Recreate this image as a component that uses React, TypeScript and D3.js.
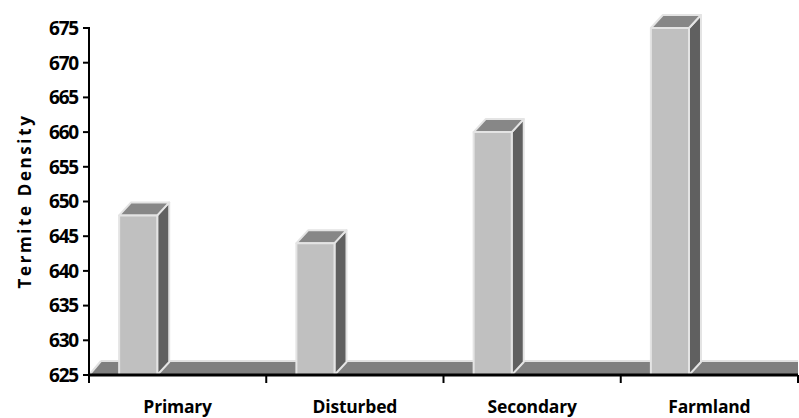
import React from "react";
import * as d3 from "d3";

const categories = ["Primary", "Disturbed", "Secondary", "Farmland"];
const densities = [648, 644, 660, 675];
const yTicks = [625, 630, 635, 640, 645, 650, 655, 660, 665, 670, 675];
const yTitle = "Termite Density";

const W = 799;
const H = 418;
const plot = { left: 89, right: 798, top: 28, bottom: 375 };
const depth = { dx: 12, dy: 13 };
const FONT = "'Open Sans', 'DejaVu Sans', sans-serif";

export default function App() {
  const x = d3
    .scaleBand<string>()
    .domain(categories)
    .range([plot.left, plot.right])
    .paddingInner(0)
    .paddingOuter(0);
  const y = d3.scaleLinear().domain([625, 675]).range([plot.bottom, plot.top]);

  const barOffset = x.bandwidth() * 0.17;
  const barW = x.bandwidth() * 0.215;
  const { dx, dy } = depth;
  const floorY = y(625);

  const poly = (pts: [number, number][]) => pts.map((p) => p.join(",")).join(" ");

  return (
    <svg
      width={W}
      height={H}
      style={{ position: "absolute", left: 0, top: 0, background: "#fff" }}
      fontFamily={FONT}
    >
      {/* floor slab */}
      <polygon
        points={poly([
          [plot.left, floorY],
          [plot.left + dx, floorY - dy],
          [plot.right, floorY - dy],
          [plot.right, floorY],
        ])}
        fill="#808080"
      />
      <line
        x1={plot.left + dx}
        x2={plot.right}
        y1={floorY - dy - 1}
        y2={floorY - dy - 1}
        stroke="#e2e2e2"
        strokeWidth={2}
      />
      <line
        x1={plot.left + 1}
        y1={floorY - 1}
        x2={plot.left + dx}
        y2={floorY - dy - 1}
        stroke="#e2e2e2"
        strokeWidth={2}
      />

      {/* 3D bars */}
      {categories.map((c, i) => {
        const x0 = (x(c) as number) + barOffset;
        const x1 = x0 + barW;
        const yt = y(densities[i]);
        return (
          <g key={c} stroke="#e4e4e4" strokeWidth={2} strokeLinejoin="round">
            <polygon
              points={poly([
                [x1, yt],
                [x1 + dx, yt - dy],
                [x1 + dx, floorY - dy],
                [x1, floorY],
              ])}
              fill="#606060"
            />
            <polygon
              points={poly([
                [x0, yt],
                [x0 + dx, yt - dy],
                [x1 + dx, yt - dy],
                [x1, yt],
              ])}
              fill="#878787"
            />
            <rect x={x0} y={yt} width={barW} height={floorY - yt} fill="#c0c0c0" />
          </g>
        );
      })}

      {/* x axis */}
      <line
        x1={plot.left}
        x2={plot.right}
        y1={floorY}
        y2={floorY}
        stroke="#000"
        strokeWidth={3}
      />
      {d3.range(categories.length + 1).map((k) => {
        const tx = plot.left + k * x.bandwidth();
        return (
          <line
            key={k}
            x1={tx}
            x2={tx}
            y1={floorY}
            y2={floorY + 8}
            stroke="#000"
            strokeWidth={2}
          />
        );
      })}
      {categories.map((c) => (
        <text
          key={c}
          x={(x(c) as number) + x.bandwidth() / 2}
          y={413}
          textAnchor="middle"
          fontSize={17.5}
          fontWeight={700}
          letterSpacing={-0.2}
          fill="#000"
        >
          {c}
        </text>
      ))}

      {/* y axis */}
      <line
        x1={plot.left}
        x2={plot.left}
        y1={plot.top - 1}
        y2={floorY}
        stroke="#000"
        strokeWidth={2}
      />
      {yTicks.map((t) => (
        <g key={t} transform={`translate(0,${y(t)})`}>
          <line x1={plot.left - 6} x2={plot.left} stroke="#000" strokeWidth={2} />
          <text
            x={plot.left - 11}
            dy="0.36em"
            textAnchor="end"
            fontSize={19}
            fontWeight={700}
            letterSpacing={-1.2}
            fill="#000"
          >
            {t}
          </text>
        </g>
      ))}
      <text
        transform={`translate(31,201) rotate(-90)`}
        textAnchor="middle"
        fontSize={17}
        fontWeight={700}
        letterSpacing={2.6}
        fill="#000"
      >
        {yTitle}
      </text>
    </svg>
  );
}
